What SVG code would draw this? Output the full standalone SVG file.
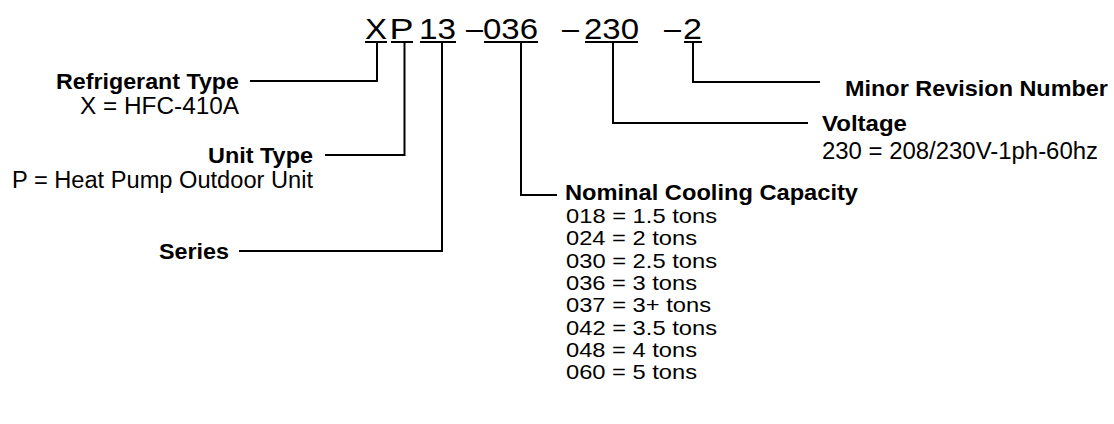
<svg xmlns="http://www.w3.org/2000/svg" width="1114" height="424" viewBox="0 0 1114 424">
<style>
text{font-family:"Liberation Sans",Arial,sans-serif;fill:#000}
.code{font-size:30px}
.b{font-size:22.5px;font-weight:bold}
.r{font-size:23px}
.li{font-size:21px}
.ln{fill:none;stroke:#000;stroke-width:2}
</style>
<rect width="1114" height="424" fill="#fff"/>
<g id="code">
<text class="code" x="365" y="38.5" textLength="22" lengthAdjust="spacingAndGlyphs">X</text>
<text class="code" x="389.5" y="38.5" textLength="24" lengthAdjust="spacingAndGlyphs">P</text>
<text class="code" x="419" y="38.5" textLength="37" lengthAdjust="spacingAndGlyphs">13</text>
<text class="code" x="466" y="38.5" textLength="17" lengthAdjust="spacingAndGlyphs">–</text>
<text class="code" x="483" y="38.5" textLength="55" lengthAdjust="spacingAndGlyphs">036</text>
<text class="code" x="562" y="38.5" textLength="17" lengthAdjust="spacingAndGlyphs">–</text>
<text class="code" x="584" y="38.5" textLength="55" lengthAdjust="spacingAndGlyphs">230</text>
<text class="code" x="664" y="38.5" textLength="17" lengthAdjust="spacingAndGlyphs">–</text>
<text class="code" x="683" y="38.5" textLength="19" lengthAdjust="spacingAndGlyphs">2</text>
<path class="ln" d="M365,42H387M391,42H413M420,42H456M484,42H538M585,42H638M684,42H702"/>
</g>
<g id="connectors">
<path class="ln" d="M377,42V81H250"/>
<path class="ln" d="M404.5,42V155H325"/>
<path class="ln" d="M442,42V251H239"/>
<path class="ln" d="M521,42V195H557"/>
<path class="ln" d="M613,42V123H808"/>
<path class="ln" d="M693,42V82H820"/>
</g>
<g id="refrigerant">
<text class="b" x="56" y="89" textLength="183" lengthAdjust="spacingAndGlyphs">Refrigerant Type</text>
<text class="r" x="80" y="114" textLength="159" lengthAdjust="spacingAndGlyphs">X = HFC-410A</text>
</g>
<g id="unittype">
<text class="b" x="208" y="163" textLength="105" lengthAdjust="spacingAndGlyphs">Unit Type</text>
<text class="r" x="12" y="188" textLength="301" lengthAdjust="spacingAndGlyphs">P = Heat Pump Outdoor Unit</text>
</g>
<g id="series">
<text class="b" x="159" y="259" textLength="70" lengthAdjust="spacingAndGlyphs">Series</text>
</g>
<g id="minor">
<text class="b" x="845" y="96" textLength="263" lengthAdjust="spacingAndGlyphs">Minor Revision Number</text>
</g>
<g id="voltage">
<text class="b" x="822" y="131" textLength="85" lengthAdjust="spacingAndGlyphs">Voltage</text>
<text class="r" x="822" y="159" textLength="276" lengthAdjust="spacingAndGlyphs">230 = 208/230V-1ph-60hz</text>
</g>
<g id="capacity">
<text class="b" x="565" y="200" textLength="293" lengthAdjust="spacingAndGlyphs">Nominal Cooling Capacity</text>
<text class="li" x="566" y="223" textLength="151" lengthAdjust="spacingAndGlyphs">018 = 1.5 tons</text>
<text class="li" x="566" y="245.3" textLength="131" lengthAdjust="spacingAndGlyphs">024 = 2 tons</text>
<text class="li" x="566" y="267.6" textLength="151" lengthAdjust="spacingAndGlyphs">030 = 2.5 tons</text>
<text class="li" x="566" y="289.9" textLength="131" lengthAdjust="spacingAndGlyphs">036 = 3 tons</text>
<text class="li" x="566" y="312.2" textLength="145" lengthAdjust="spacingAndGlyphs">037 = 3+ tons</text>
<text class="li" x="566" y="334.5" textLength="151" lengthAdjust="spacingAndGlyphs">042 = 3.5 tons</text>
<text class="li" x="566" y="356.8" textLength="131" lengthAdjust="spacingAndGlyphs">048 = 4 tons</text>
<text class="li" x="566" y="379.1" textLength="131" lengthAdjust="spacingAndGlyphs">060 = 5 tons</text>
</g>
</svg>
